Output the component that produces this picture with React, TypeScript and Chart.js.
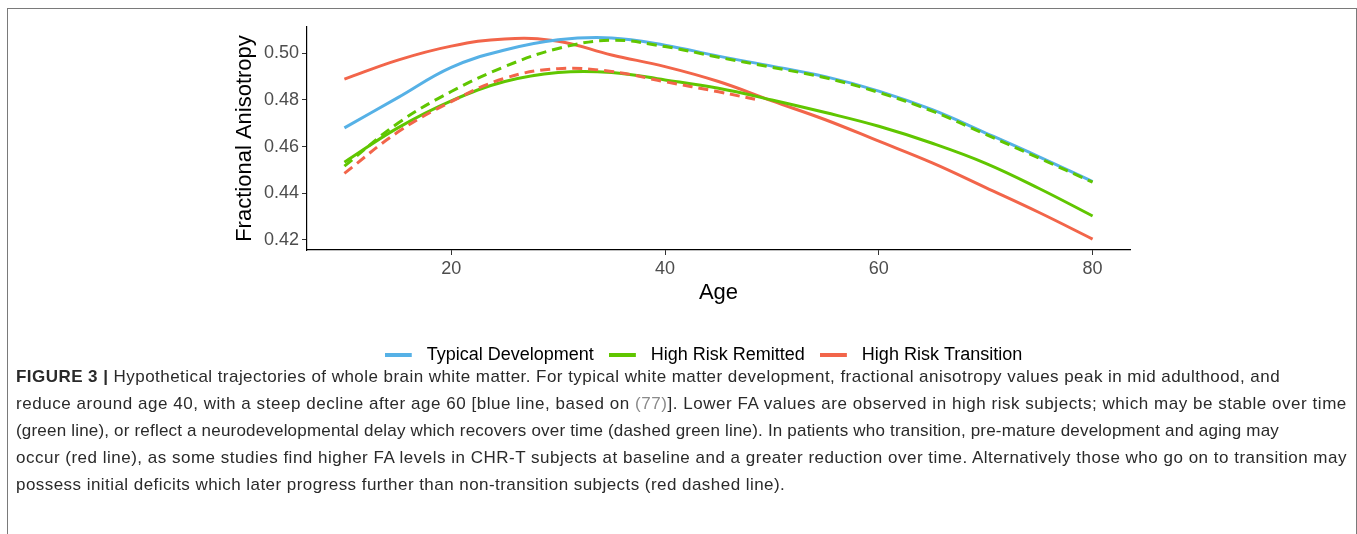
import React, { useEffect, useRef } from "react";
import { Chart, registerables } from "chart.js";

Chart.register(...registerables);

// ---- data ----
const AGES = [10, 15, 20, 25, 30, 35, 40, 45, 50, 55, 60, 65, 70, 75, 80];
const TYPICAL = [0.468, 0.481, 0.494, 0.5014, 0.5058, 0.5066, 0.5035, 0.4988, 0.4945, 0.49, 0.4838, 0.4758, 0.4658, 0.4556, 0.445];
const REMITTED = [0.4533, 0.468, 0.4796, 0.4879, 0.4918, 0.4918, 0.4886, 0.485, 0.48, 0.4746, 0.4687, 0.4614, 0.4528, 0.442, 0.4302];
const TRANSITION = [0.4889, 0.4971, 0.5031, 0.5062, 0.5052, 0.4993, 0.4943, 0.4879, 0.4796, 0.4715, 0.4623, 0.453, 0.4424, 0.4317, 0.4203];
const DELAYED = [0.4516, 0.47, 0.4836, 0.4943, 0.5021, 0.5056, 0.5029, 0.4983, 0.494, 0.4895, 0.4832, 0.4752, 0.4652, 0.455, 0.4447];
const DEFICIT_AGES = [10, 15, 20, 25, 30, 35, 40, 45, 49];
const DEFICIT = [0.4485, 0.4662, 0.4793, 0.4893, 0.4934, 0.4922, 0.4878, 0.4835, 0.4797];

const X_TICKS = [20, 40, 60, 80];
const Y_TICKS = [0.42, 0.44, 0.46, 0.48, 0.5];
const SERIES_NAMES = ["Typical Development", "High Risk Remitted", "High Risk Transition"];
const X_TITLE = "Age";
const Y_TITLE = "Fractional Anisotropy";

const BLUE = "#56B1E6";
const GREEN = "#60C600";
const RED = "#F2654A";

const FONT = "'Liberation Sans', Arial, Helvetica, sans-serif";

function pts(xs: number[], ys: number[]) {
  return xs.map((x, i) => ({ x, y: ys[i] }));
}

function swatch(color: string) {
  const c = document.createElement("canvas");
  c.width = 33;
  c.height = 8;
  const g = c.getContext("2d")!;
  g.fillStyle = color;
  g.fillRect(0, 2, 27, 4);
  return c;
}

function ChartView() {
  const ref = useRef<HTMLCanvasElement | null>(null);
  useEffect(() => {
    if (!ref.current) return;
    const colors = [BLUE, GREEN, RED];
    const line = (data: any, color: string, dash: number[] | undefined) => ({
      data,
      borderColor: color,
      backgroundColor: color,
      borderWidth: 3,
      borderDash: dash || [],
      pointRadius: 0,
      tension: 0.4,
      fill: false,
      yAxisID: "y",
    });
    const chart = new Chart(ref.current, {
      type: "line",
      data: {
        datasets: [
          { label: "Delayed", ...line(pts(AGES, DELAYED), GREEN, [10, 6]) },
          { label: "Deficit", ...line(pts(DEFICIT_AGES, DEFICIT), RED, [10, 6]) },
          { label: SERIES_NAMES[0], ...line(pts(AGES, TYPICAL), BLUE, undefined) },
          { label: SERIES_NAMES[1], ...line(pts(AGES, REMITTED), GREEN, undefined) },
          { label: SERIES_NAMES[2], ...line(pts(AGES, TRANSITION), RED, undefined) },
        ] as any,
      },
      options: {
        animation: false,
        responsive: true,
        maintainAspectRatio: false,
        layout: { padding: { left: 250, right: 206, top: 18, bottom: 5 } },
        plugins: {
          tooltip: { enabled: false },
          legend: {
            position: "bottom",
            labels: {
              usePointStyle: true,
              pointStyleWidth: 33,
              padding: 15,
              color: "#1a1a1a",
              font: { family: FONT, size: 18 },
              generateLabels: () =>
                SERIES_NAMES.map((name, i) => ({
                  text: name,
                  pointStyle: swatch(colors[i]) as any,
                  fillStyle: colors[i],
                  strokeStyle: colors[i],
                  lineWidth: 0,
                  hidden: false,
                  datasetIndex: i + 2,
                })),
            },
          },
        },
        scales: {
          x: {
            type: "linear",
            min: 6.5,
            max: 83.5,
            afterBuildTicks: (s: any) => {
              s.ticks = X_TICKS.map((v) => ({ value: v }));
            },
            afterFit: (s: any) => {
              s.height = 81;
            },
            grid: { display: true, drawOnChartArea: false, drawTicks: true, tickLength: 5, color: "#333", lineWidth: 1 },
            border: { display: true, color: "#000", width: 1.2 },
            ticks: { color: "#4d4d4d", padding: 3, font: { family: FONT, size: 18 }, maxRotation: 0 },
            title: { display: true, text: X_TITLE, color: "#000", font: { family: FONT, size: 22 }, padding: { top: 0, bottom: 25 } },
          },
          y: {
            type: "linear",
            position: "left",
            min: 0.4156,
            max: 0.5113,
            afterBuildTicks: (s: any) => {
              s.ticks = Y_TICKS.map((v) => ({ value: v }));
            },
            afterFit: (s: any) => {
              s.width = 49;
            },
            grid: { display: true, drawOnChartArea: false, drawTicks: true, tickLength: 5, color: "#333", lineWidth: 1 },
            border: { display: true, color: "#000", width: 1.2 },
            ticks: {
              color: "#4d4d4d",
              padding: 3,
              font: { family: FONT, size: 18 },
              callback: (v: any) => Number(v).toFixed(2),
            },
            title: { display: true, text: Y_TITLE, color: "#000", font: { family: FONT, size: 22 }, padding: { top: -26, bottom: 0 } },
          },
          // empty spacer on the right so the bottom legend sits where the reference has it
          spacer: {
            type: "linear",
            position: "right",
            display: true,
            grid: { display: false },
            border: { display: false },
            ticks: { display: false },
            afterFit: (s: any) => {
              s.width = 19;
            },
          },
        },
      },
    });
    return () => chart.destroy();
  }, []);
  return <canvas ref={ref} />;
}

const CAPTION_LINES: React.ReactNode[] = [
  <>
    <b>FIGURE 3 |</b> Hypothetical trajectories of whole brain white matter. For typical white matter development, fractional anisotropy values peak in mid adulthood, and
  </>,
  <>
    reduce around age 40, with a steep decline after age 60 [blue line, based on <span style={{ color: "#8a8a8a" }}>(77)</span>]. Lower FA values are observed in high risk subjects; which may be stable over time
  </>,
  <>(green line), or reflect a neurodevelopmental delay which recovers over time (dashed green line). In patients who transition, pre-mature development and aging may</>,
  <>occur (red line), as some studies find higher FA levels in CHR-T subjects at baseline and a greater reduction over time. Alternatively those who go on to transition may</>,
  <>possess initial deficits which later progress further than non-transition subjects (red dashed line).</>,
];
const CAPTION_SPACING = [0.45, 0.54, 0.19, 0.5, 0.45];

export default function App() {
  return (
    <div style={{ position: "fixed", inset: 0, overflow: "hidden", background: "#fff" }}>
      <div
        style={{
          position: "absolute",
          left: 7,
          top: 8,
          width: 1350,
          height: 600,
          boxSizing: "border-box",
          border: "1px solid #7a7a7a",
        }}
      />
      <div style={{ position: "absolute", left: 8, top: 9, width: 1347, height: 370 }}>
        <ChartView />
      </div>
      <div
        style={{
          position: "absolute",
          left: 16,
          top: 362.5,
          fontFamily: FONT,
          fontSize: 17,
          lineHeight: "27px",
          color: "#2a2a2a",
          whiteSpace: "nowrap",
        }}
      >
        {CAPTION_LINES.map((l, i) => (
          <div key={i} style={{ letterSpacing: CAPTION_SPACING[i] + "px" }}>
            {l}
          </div>
        ))}
      </div>
    </div>
  );
}
